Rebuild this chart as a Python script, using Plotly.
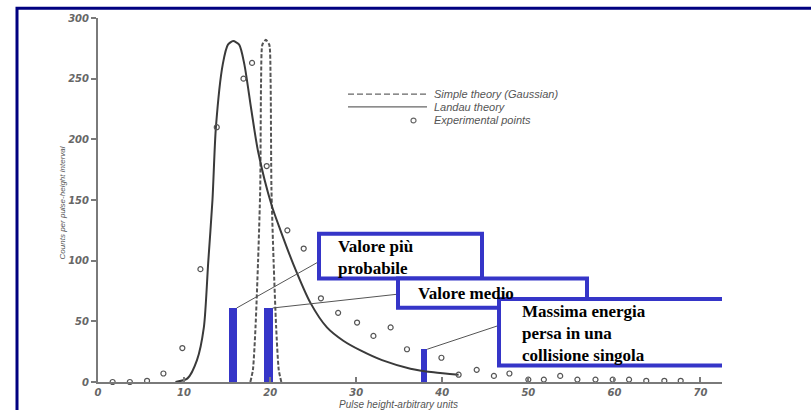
import plotly.graph_objects as go

# ---------------- data ----------------
landau_x = [9.0, 10.4, 11.5, 12.3, 12.8, 13.3, 13.7, 14.5, 15.1, 15.7, 16.4, 17.0, 17.8, 18.6,
            20.2, 21.2, 22.7, 24.7, 26.6, 28.5, 30.5, 33.0, 36.3, 39.0, 41.9]
landau_y = [0, 3, 18, 45, 98, 150, 210, 262, 278, 281, 278, 262, 225, 190,
            145, 125, 97, 65, 45, 34, 26, 18, 11, 8, 6]

gauss_x = [17.7, 18.0, 18.3, 18.6, 18.85, 18.95, 19.1, 19.5, 19.9, 20.05, 20.15, 20.4, 20.7, 21.0, 21.3]
gauss_y = [0, 10, 45, 100, 160, 250, 278, 282, 278, 250, 160, 100, 45, 10, 0]

exp_x = [1.7, 3.7, 5.7, 7.6, 9.8, 11.9, 13.8, 16.9, 17.9, 19.6, 22.0, 23.9, 25.9, 27.9, 30.1,
         32.0, 34.0, 35.9, 39.9, 41.9, 44.0, 46.0, 47.8, 50.0, 51.8, 53.7, 55.7, 57.8, 59.8,
         61.7, 63.7, 65.8, 67.7]
exp_y = [0, 0, 1, 7, 28, 93, 210, 250, 263, 178, 125, 110, 69, 57, 49,
         38, 45, 27, 20, 6, 10, 5, 7, 2, 2, 5, 2, 2, 2,
         2, 1, 1, 1]

mark_x = [15.65, 19.78, 37.9]
mark_y = [61, 61, 27]
mark_w = [0.93, 1.04, 0.7]

x_ticks = [0, 10, 20, 30, 40, 50, 60, 70]
y_ticks = [0, 50, 100, 150, 200, 250, 300]

legend_labels = ["Simple theory (Gaussian)", "Landau theory", "Experimental points"]
box1_lines = ["Valore più", "probabile"]
box2_lines = ["Valore medio"]
box3_lines = ["Massima energia", "persa in una", "collisione singola"]

# ---------------- layout geometry (pixels) ----------------
W, H = 811, 410
L, R, T, B = 98, 722, 16, 389
XMAX, YMAX = 72.5, 300


def dx(px):  # pixel -> data x
    return (px - L) / (R - L) * XMAX


def dy(py):  # pixel -> data y
    return (B - py) / (B - T) * YMAX


def qx(px):  # pixel -> paper x
    return (px - L) / (R - L)


def qy(py):  # pixel -> paper y
    return (B - py) / (B - T)


BLUE = "#3535c8"
INK = "#3a3a3a"

fig = go.Figure()

fig.add_trace(go.Scatter(x=gauss_x, y=gauss_y, mode="lines",
                         line=dict(color="#555555", width=2, dash="4px,2px", shape="spline", smoothing=0.6),
                         hoverinfo="skip"))
fig.add_trace(go.Scatter(x=landau_x, y=landau_y, mode="lines",
                         line=dict(color=INK, width=2, shape="spline", smoothing=0.7),
                         hoverinfo="skip"))
fig.add_trace(go.Scatter(x=exp_x, y=exp_y, mode="markers",
                         marker=dict(symbol="circle-open", size=5, color="#555555", line=dict(width=1.2)),
                         cliponaxis=False))
fig.add_trace(go.Bar(x=mark_x, y=mark_y, width=mark_w, marker=dict(color=BLUE, line=dict(width=0))))

shapes = []
annotations = []

# outer frame
shapes.append(dict(type="rect", xref="paper", yref="paper",
                   x0=qx(17), x1=qx(W + 10), y0=qy(H + 10), y1=qy(6),
                   line=dict(color="#000080", width=3), fillcolor="rgba(0,0,0,0)", layer="above"))

# connector lines from the marks to the boxes
conn_ends = [(320, 265), (398, 299), (499, 331)]
for i, (ex, ey) in enumerate(conn_ends):
    shapes.append(dict(type="line", xref="x", yref="y",
                       x0=mark_x[i] + mark_w[i] / 2, y0=mark_y[i], x1=dx(ex), y1=dy(ey),
                       line=dict(color="#555555", width=1), layer="above"))

# boxes (pixel rectangles)
boxes = [(319, 237, 482, 283), (398, 283, 587, 313), (499, 304, 778, 372)]
for (x0, y0, x1, y1) in boxes:
    shapes.append(dict(type="rect", xref="x", yref="y",
                       x0=dx(x0), x1=dx(x1), y0=dy(y1), y1=dy(y0),
                       line=dict(color=BLUE, width=4), fillcolor="white", layer="above"))

box_text = [(box1_lines, 336, 261), (box2_lines, 416, 298), (box3_lines, 520, 339)]
for lines, lx, yc in box_text:
    annotations.append(dict(xref="x", yref="y", x=dx(lx), y=dy(yc),
                            text="<br>".join("<b>" + t + "</b>" for t in lines),
                            showarrow=False, xanchor="left", yanchor="middle", align="left",
                            font=dict(family="Liberation Serif", size=17, color="black")))

# legend (drawn)
shapes.append(dict(type="line", xref="paper", yref="paper", x0=qx(348), x1=qx(427), y0=qy(94), y1=qy(94),
                   line=dict(color="#666666", width=1.3, dash="6px,3px")))
shapes.append(dict(type="line", xref="paper", yref="paper", x0=qx(348), x1=qx(427), y0=qy(107), y1=qy(107),
                   line=dict(color="#666666", width=1.3)))
shapes.append(dict(type="circle", xref="paper", yref="paper", x0=qx(411), x1=qx(416), y0=qy(123.5), y1=qy(118.5),
                   line=dict(color="#666666", width=1.2)))
for t, yy in zip(legend_labels, [94, 107, 121]):
    annotations.append(dict(xref="paper", yref="paper", x=qx(432), y=qy(yy), text=t, showarrow=False,
                            xanchor="left", yanchor="middle",
                            font=dict(family="Liberation Sans", size=11, color="#555555", style="italic")))

# axis titles
annotations.append(dict(xref="paper", yref="paper", x=qx(62), y=qy(206), text="Counts per pulse-height interval",
                        showarrow=False, textangle=-90, xanchor="center", yanchor="middle",
                        font=dict(family="Liberation Sans", size=8, color="#555555", style="italic")))
annotations.append(dict(xref="paper", yref="paper", x=qx(398), y=qy(404), text="Pulse height-arbitrary units",
                        showarrow=False, xanchor="center", yanchor="top",
                        font=dict(family="Liberation Sans", size=10, color="#555555", style="italic")))

fig.update_layout(
    width=W, height=H,
    margin=dict(l=L, r=W - R, t=T, b=H - B, pad=0),
    paper_bgcolor="white", plot_bgcolor="white",
    showlegend=False,
    bargap=0,
    shapes=shapes,
    annotations=annotations,
    xaxis=dict(range=[0, XMAX], tickvals=x_ticks, ticktext=[str(v) for v in x_ticks],
               showgrid=False, zeroline=False, showline=True, linecolor="#7a7a7a", linewidth=2,
               ticks="inside", ticklen=5, tickcolor="#7a7a7a", tickwidth=1.5,
               tickfont=dict(family="DejaVu Sans", size=10, color="#666666", style="italic", weight="bold")),
    yaxis=dict(range=[0, YMAX], tickvals=y_ticks, ticktext=[str(v) for v in y_ticks],
               showgrid=False, zeroline=False, showline=True, linecolor="#7a7a7a", linewidth=2,
               ticks="outside", ticklen=5, tickcolor="#7a7a7a", tickwidth=1.5,
               tickfont=dict(family="DejaVu Sans", size=10, color="#666666", style="italic", weight="bold")),
)

fig.write_html("out.html")
